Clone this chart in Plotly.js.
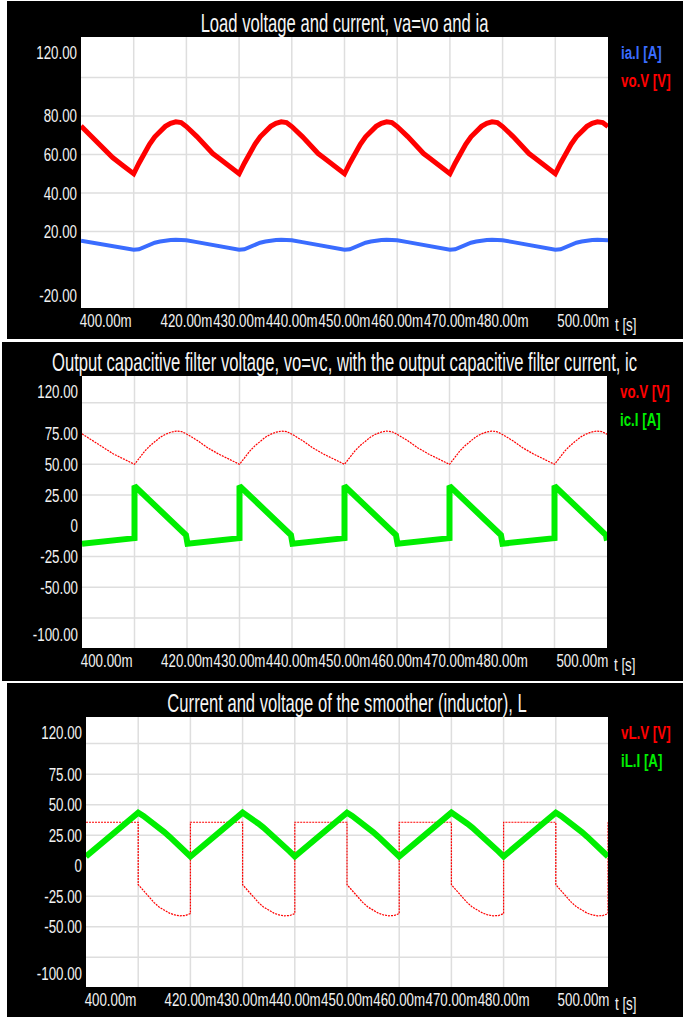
<!DOCTYPE html>
<html>
<head>
<meta charset="utf-8">
<script src="https://cdn.plot.ly/plotly-3.0.1.min.js"></script>
<style>
  html, body { margin:0; padding:0; background:#ffffff; }
  body { width:683px; height:1017px; overflow:hidden; position:relative; }
  .panel { position:absolute; background:#000; outline:1px solid #8c8c8c; outline-offset:-1px; }
</style>
</head>
<body>
<div id="p1" class="panel" style="left:7px;top:1px;width:676px;height:338px"></div>
<div id="p2" class="panel" style="left:2px;top:342px;width:681px;height:339px"></div>
<div id="p3" class="panel" style="left:7px;top:683px;width:676px;height:334px"></div>
<script>
// ---------------- data (time in ms) ----------------
const titles = [
  "Load voltage and current, va=vo and ia",
  "Output capacitive filter voltage, vo=vc, with the output capacitive filter current, ic",
  "Current and voltage of the smoother (inductor), L"
];

// load / capacitor voltage vo [V]
const tVo = [400,402,404,405,406,408,
  410,411,412,413,414,415,416,417,418,419,420,422,424,425,426,428,
  430,431,432,433,434,435,436,437,438,439,440,442,444,445,446,448,
  450,451,452,453,454,455,456,457,458,459,460,462,464,465,466,468,
  470,471,472,473,474,475,476,477,478,479,480,482,484,485,486,488,
  490,491,492,493,494,495,496,497,498,499,500];
const voV = [74.8,69.4,63.5,60.7,58.4,54.2,
  50,55.5,61,65.3,69.2,72.3,74.6,76.2,77,76.6,74.5,69.3,63.3,60.5,58.4,54.2,
  50,55.5,61,65.3,69.2,72.3,74.6,76.2,77,76.6,74.5,69.3,63.3,60.5,58.4,54.2,
  50,55.5,61,65.3,69.2,72.3,74.6,76.2,77,76.6,74.5,69.3,63.3,60.5,58.4,54.2,
  50,55.5,61,65.3,69.2,72.3,74.6,76.2,77,76.6,74.5,69.3,63.3,60.5,58.4,54.2,
  50,55.5,61,65.3,69.2,72.3,74.6,76.2,77,76.6,74.5];

// load current ia [A]
const tIa = [400,402,404,406,408,409,
  410,411,412,413,414,415,416,417,418,419,420,422,424,426,428,429,
  430,431,432,433,434,435,436,437,438,439,440,442,444,446,448,449,
  450,451,452,453,454,455,456,457,458,459,460,462,464,466,468,469,
  470,471,472,473,474,475,476,477,478,479,480,482,484,486,488,489,
  490,491,492,493,494,495,496,497,498,499,500];
const iaA = [15.2,14.2,13.2,12.2,11.2,10.7,
  10.5,10.8,12,13.3,14.2,14.8,15.3,15.6,15.7,15.7,15.5,14.5,13.4,12.4,11.3,10.8,
  10.5,10.8,12,13.3,14.2,14.8,15.3,15.6,15.7,15.7,15.5,14.5,13.4,12.4,11.3,10.8,
  10.5,10.8,12,13.3,14.2,14.8,15.3,15.6,15.7,15.7,15.5,14.5,13.4,12.4,11.3,10.8,
  10.5,10.8,12,13.3,14.2,14.8,15.3,15.6,15.7,15.7,15.5,14.5,13.4,12.4,11.3,10.8,
  10.5,10.8,12,13.3,14.2,14.8,15.3,15.6,15.7,15.7,15.5];

// capacitor current ic [A]
const tIc = [400,405,410,
  410,412,414,416,418,419.8,420.1,425,430,
  430,432,434,436,438,439.8,440.1,445,450,
  450,452,454,456,458,459.8,460.1,465,470,
  470,472,474,476,478,479.8,480.1,485,490,
  490,492,494,496,498,499.8,500];
const icA = [-14.5,-12,-10,
  32.5,24.5,16.5,8.5,0.5,-7.5,-14.5,-11.7,-10,
  32.5,24.5,16.5,8.5,0.5,-7.5,-14.5,-11.7,-10,
  32.5,24.5,16.5,8.5,0.5,-7.5,-14.5,-11.7,-10,
  32.5,24.5,16.5,8.5,0.5,-7.5,-14.5,-11.7,-10,
  32.5,24.5,16.5,8.5,0.5,-7.5,-12];

// inductor voltage vL [V]
const tVL = [400,410,
  410,411,412,413,414,415,416,417,418,419,420,420,430,
  430,431,432,433,434,435,436,437,438,439,440,440,450,
  450,451,452,453,454,455,456,457,458,459,460,460,470,
  470,471,472,473,474,475,476,477,478,479,480,480,490,
  490,491,492,493,494,495,496,497,498,499,500,500];
const vLV = [35.6,35.6,
  -15.5,-20.5,-25.5,-30,-33.8,-36.5,-38.8,-40.3,-41,-40.8,-39.2,35.6,35.6,
  -15.5,-20.5,-25.5,-30,-33.8,-36.5,-38.8,-40.3,-41,-40.8,-39.2,35.6,35.6,
  -15.5,-20.5,-25.5,-30,-33.8,-36.5,-38.8,-40.3,-41,-40.8,-39.2,35.6,35.6,
  -15.5,-20.5,-25.5,-30,-33.8,-36.5,-38.8,-40.3,-41,-40.8,-39.2,35.6,35.6,
  -15.5,-20.5,-25.5,-30,-33.8,-36.5,-38.8,-40.3,-41,-40.8,-39.2,35.6];

// inductor current iL [A]
const tIL = [400,
  410,411,412,413,414,415,416,417,418,419,420,
  430,431,432,433,434,435,436,437,438,439,440,
  450,451,452,453,454,455,456,457,458,459,460,
  470,471,472,473,474,475,476,477,478,479,480,
  490,491,492,493,494,495,496,497,498,499,500];
const iLA = [7.6,
  43.5,40.8,37.8,34.6,31.2,27.6,23.8,20,16,11.8,7.6,
  43.5,40.8,37.8,34.6,31.2,27.6,23.8,20,16,11.8,7.6,
  43.5,40.8,37.8,34.6,31.2,27.6,23.8,20,16,11.8,7.6,
  43.5,40.8,37.8,34.6,31.2,27.6,23.8,20,16,11.8,7.6,
  43.5,40.8,37.8,34.6,31.2,27.6,23.8,20,16,11.8,7.6];

// axes ticks
const xGrid = [410,420,430,440,450,460,470,480,490];
const xLabelPos = [404.7,420,430,440,450,460,470,480,495.3];
const xLabelText = ["400.00m","420.00m","430.00m","440.00m","450.00m","460.00m","470.00m","480.00m","500.00m"];

const y1Grid = [100,80,60,40,20];
const y1LabelPos = [113.2,80,60,40,20,-13];
const y1LabelText = ["120.00","80.00","60.00","40.00","20.00","-20.00"];

const y23Grid = [100,75,50,25,-25,-50,-75];
const y23LabelPos = [109,75,50,25,0,-25,-50,-88];
const y23LabelText = ["120.00","75.00","50.00","25.00","0","-25.00","-50.00","-100.00"];

const legends = [
  [["ia.I [A]","#3a6cff"],["vo.V [V]","#ff0000"]],
  [["vo.V [V]","#ff0000"],["ic.I [A]","#00ee00"]],
  [["vL.V [V]","#ff0000"],["iL.I [A]","#00ee00"]]
];

// ---------------- drawing ----------------
const FONT = '"Liberation Sans", Arial, sans-serif';
const GRID = '#dedede';
const SX_TEXT = 0.72;   // condensed look of the original lettering
const SX_TITLE = 0.665;

function gridShapes(yg) {
  const s = [];
  xGrid.forEach(v => s.push({type:'line', xref:'x', yref:'paper', x0:v, x1:v, y0:0, y1:1,
    layer:'below', line:{color:GRID, width:1.5}}));
  yg.forEach(v => s.push({type:'line', xref:'paper', yref:'y', x0:0, x1:1, y0:v, y1:v,
    layer:'below', line:{color:GRID, width:1.5}}));
  return s;
}

function makeLayout(opts) {
  const ann = [];
  opts.legend.forEach((item, i) => {
    ann.push({text:item[0], xref:'paper', yref:'paper', x:1, y:1, xanchor:'left', yanchor:'middle',
      xshift:11, yshift: i===0 ? -15 : -43, showarrow:false,
      font:{family:FONT, size:18.5, color:item[1], weight:'bold'}});
  });
  ann.push({text:'t [s]', xref:'paper', yref:'paper', x:1, y:0, xanchor:'left', yanchor:'top',
    xshift:5, yshift:-4, showarrow:false, font:{family:FONT, size:18.5, color:'#f2f2f2'}});
  const tickFont = {family:FONT, size:18.5, color:'#f2f2f2'};
  return {
    width: opts.w, height: opts.h,
    paper_bgcolor:'#000', plot_bgcolor:'#fff',
    margin: opts.margin,
    showlegend:false,
    title:{text:opts.title, font:{family:FONT, size:25, color:'#f5f5f5'},
      x:0.5, xref:'paper', xanchor:'center', y:opts.titleY, yref:'container', yanchor:'middle'},
    xaxis:{range:[400,500], tickmode:'array', tickvals:xLabelPos, ticktext:xLabelText, tickangle:0,
      showgrid:false, zeroline:false, showline:false, ticks:'', tickfont:tickFont, fixedrange:true},
    yaxis:{range:opts.yRange, tickmode:'array', tickvals:opts.yLabelPos, ticktext:opts.yLabelText,
      ticklabelstandoff:3,
      showgrid:false, zeroline:false, showline:false, ticks:'', tickfont:tickFont, fixedrange:true},
    shapes: gridShapes(opts.yGrid),
    annotations: ann
  };
}

// horizontally condense the lettering, keeping each text's anchor edge in place
function condense(gd) {
  const rules = [
    ['.xtick text', 'c', SX_TEXT],
    ['.ytick text', 'r', SX_TEXT],
    ['.gtitle', 'c', SX_TITLE],
    ['.annotation-text', 'l', SX_TEXT]
  ];
  rules.forEach(([sel, mode, s]) => {
    gd.querySelectorAll(sel).forEach(el => {
      const b = el.getBBox();
      const ox = mode === 'c' ? b.x + b.width / 2 : (mode === 'r' ? b.x + b.width : b.x);
      const t = el.getAttribute('transform') || '';
      el.setAttribute('transform', t + ' translate(' + ox + ',0) scale(' + s + ',1) translate(' + (-ox) + ',0)');
    });
  });
}

const cfg = {displayModeBar:false, staticPlot:true};

// Panel 1
Plotly.newPlot('p1', [
  {x:tIa, y:iaA, mode:'lines', line:{color:'#3a6cff', width:4}, name:'ia.I [A]'},
  {x:tVo, y:voV, mode:'lines', line:{color:'#ff0000', width:5}, name:'vo.V [V]'}
], makeLayout({w:676, h:338, margin:{l:74, r:75, t:36, b:31}, title:titles[0], titleY:0.935,
  yRange:[-19.7,121], yGrid:y1Grid, yLabelPos:y1LabelPos, yLabelText:y1LabelText, legend:legends[0]}), cfg)
  .then(condense);

// Panel 2
Plotly.newPlot('p2', [
  {x:tVo, y:voV, mode:'lines', line:{color:'#ff0000', width:1.2, dash:'2px,1px'}, name:'vo.V [V]'},
  {x:tIc, y:icA, mode:'lines', line:{color:'#00ee00', width:6}, name:'ic.I [A]'}
], makeLayout({w:681, h:339, margin:{l:80, r:76, t:34, b:33}, title:titles[1], titleY:0.94,
  yRange:[-99.3,121.8], yGrid:y23Grid, yLabelPos:y23LabelPos, yLabelText:y23LabelText, legend:legends[1]}), cfg)
  .then(condense);

// Panel 3
Plotly.newPlot('p3', [
  {x:tVL, y:vLV, mode:'lines', line:{color:'#ff0000', width:1.2, dash:'2px,1px'}, name:'vL.V [V]'},
  {x:tIL, y:iLA, mode:'lines', line:{color:'#00ee00', width:6}, name:'iL.I [A]'}
], makeLayout({w:676, h:334, margin:{l:79, r:75, t:34, b:30}, title:titles[2], titleY:0.94,
  yRange:[-99.3,121.8], yGrid:y23Grid, yLabelPos:y23LabelPos, yLabelText:y23LabelText, legend:legends[2]}), cfg)
  .then(condense);
</script>
</body>
</html>
